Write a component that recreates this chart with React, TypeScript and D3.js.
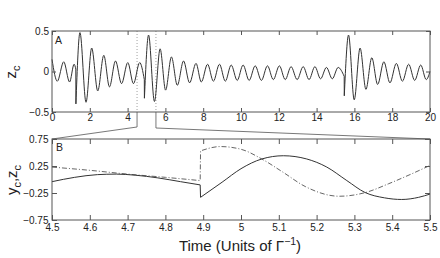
import React, { useEffect, useRef } from 'react';
import * as d3 from 'd3';

// z_c over the full run (time, value), extremes + jump points
const zcTrace: [number, number][] = [
  [0, 0.15], [0.28, -0.12], [0.62, 0.12], [0.93, -0.13], [1.17, 0.09], [1.26, 0.03],
  [1.265, -0.4], [1.48, 0.48], [1.8, -0.38], [2.1, 0.29], [2.42, -0.24], [2.74, 0.2],
  [3.04, -0.19], [3.36, 0.13], [3.68, -0.15], [4.01, 0.11], [4.31, -0.15], [4.64, 0.11],
  [4.885, -0.1], [4.89, -0.33], [5.11, 0.45], [5.42, -0.37], [5.72, 0.28], [6.01, -0.23],
  [6.32, 0.18], [6.63, -0.17], [6.96, 0.13], [7.28, -0.14], [7.62, 0.1], [7.9, -0.13],
  [8.23, 0.09], [8.54, -0.12], [8.86, 0.09], [9.17, -0.12], [9.48, 0.08], [9.8, -0.11],
  [10.11, 0.08], [10.43, -0.11], [10.75, 0.07], [11.08, -0.11], [11.4, 0.07], [11.71, -0.1],
  [12.03, 0.07], [12.34, -0.1], [12.65, 0.06], [12.97, -0.1], [13.29, 0.06], [13.6, -0.1],
  [13.91, 0.06], [14.21, -0.09], [14.52, 0.05], [14.83, -0.09], [15.14, 0.05], [15.46, -0.06],
  [15.465, -0.3], [15.69, 0.45], [15.99, -0.35], [16.3, 0.29], [16.61, -0.22], [16.92, 0.17],
  [17.23, -0.16], [17.56, 0.12], [17.88, -0.14], [18.22, 0.1], [18.54, -0.12], [18.87, 0.09],
  [19.19, -0.11], [19.51, 0.08], [19.8, -0.1], [20, 0.0],
];

// zoomed window, solid = z_c, dash-dot = y_c
const zcZoom: [number, number][] = [
  [4.5, -0.04], [4.56, 0.04], [4.62, 0.09], [4.67, 0.1], [4.72, 0.08], [4.78, 0.03],
  [4.84, -0.04], [4.892, -0.1], [4.893, -0.33], [4.95, -0.05], [5.0, 0.2], [5.055, 0.38],
  [5.112, 0.44], [5.174, 0.38], [5.227, 0.23], [5.28, -0.02], [5.328, -0.24], [5.38, -0.34],
  [5.425, -0.37], [5.47, -0.33], [5.5, -0.27],
];
const ycZoom: [number, number][] = [
  [4.5, 0.23], [4.6, 0.17], [4.7, 0.1], [4.8, 0.04], [4.892, -0.02], [4.893, 0.53],
  [4.945, 0.61], [5.0, 0.56], [5.055, 0.38], [5.11, 0.14], [5.17, -0.13], [5.26, -0.31],
  [5.33, -0.24], [5.39, -0.08], [5.45, 0.1], [5.5, 0.26],
];

const zoomWindow = [4.5, 5.5];
const topXTicks = [0, 2, 4, 6, 8, 10, 12, 14, 16, 18, 20];
const topYTicks = [-0.5, 0, 0.5];
const zoomXTicks = [4.5, 4.6, 4.7, 4.8, 4.9, 5, 5.1, 5.2, 5.3, 5.4, 5.5];
const zoomYTicks = [-0.75, -0.25, 0.25, 0.75];

const FONT = 'Liberation Sans, Arial, sans-serif';
const INK = '#222';
const FRAME = '#555';

// consecutive points closer than 0.01 in time are drawn as a straight jump
function jumpPath(pts: [number, number][], x: any, y: any) {
  const segs: [number, number][][] = [[pts[0]]];
  for (let i = 1; i < pts.length; i++) {
    if (pts[i][0] - pts[i - 1][0] < 0.01) segs.push([pts[i]]);
    else segs[segs.length - 1].push(pts[i]);
  }
  const line = d3.line<[number, number]>().x((d) => x(d[0])).y((d) => y(d[1])).curve(d3.curveMonotoneX);
  return segs.map((s) => line(s) || '').map((d, i) => (i === 0 ? d : 'L' + d.slice(1))).join('');
}

function drawAxes(g: any, x: any, y: any, xt: number[], yt: number[], tick: number, xPad: number, yPad: number) {
  const [x0, x1] = x.range();
  const [y0, y1] = y.range();
  const fmt = d3.format('');
  const style = (sel: any) => {
    sel.select('.domain').remove();
    sel.selectAll('line').attr('stroke', FRAME);
    sel.selectAll('text').attr('fill', INK).style('font-family', FONT).style('font-size', '10px');
  };
  g.append('g').attr('transform', `translate(0,${y0})`)
    .call(d3.axisBottom(x).tickValues(xt).tickSizeInner(-tick).tickSizeOuter(0).tickPadding(xPad).tickFormat(fmt as any))
    .call(style);
  g.append('g').attr('transform', `translate(0,${y1})`)
    .call(d3.axisTop(x).tickValues(xt).tickSizeInner(-tick).tickSizeOuter(0).tickFormat(() => ''))
    .call(style);
  g.append('g').attr('transform', `translate(${x0},0)`)
    .call(d3.axisLeft(y).tickValues(yt).tickSizeInner(-tick).tickSizeOuter(0).tickPadding(yPad).tickFormat(fmt as any))
    .call(style);
  g.append('g').attr('transform', `translate(${x1},0)`)
    .call(d3.axisRight(y).tickValues(yt).tickSizeInner(-tick).tickSizeOuter(0).tickFormat(() => ''))
    .call(style);
  g.append('rect').attr('x', x0).attr('y', y1).attr('width', x1 - x0).attr('height', y0 - y1)
    .attr('fill', 'none').attr('stroke', FRAME).attr('stroke-width', 1);
}

const App = () => {
  const ref = useRef<SVGSVGElement>(null);

  useEffect(() => {
    const svg = d3.select(ref.current);
    svg.selectAll('*').remove();

    const xTop = d3.scaleLinear().domain([0, 20]).range([52, 430]);
    const yTop = d3.scaleLinear().domain([-0.5, 0.5]).range([112, 31]);
    const xBot = d3.scaleLinear().domain(zoomWindow).range([52, 430]);
    const yBot = d3.scaleLinear().domain([-0.75, 0.75]).range([220, 139]);

    // panel A
    const a = svg.append('g');
    a.selectAll('line.win').data(zoomWindow).enter().append('line')
      .attr('x1', (d) => xTop(d)).attr('x2', (d) => xTop(d)).attr('y1', 31).attr('y2', 112)
      .attr('stroke', '#888').attr('stroke-width', 0.8).attr('stroke-dasharray', '1,2');
    a.append('path').attr('d', jumpPath(zcTrace, xTop, yTop))
      .attr('fill', 'none').attr('stroke', '#333').attr('stroke-width', 1);
    drawAxes(a, xTop, yTop, topXTicks, topYTicks, 4, 2, 3);

    // zoom connectors
    svg.append('polyline')
      .attr('points', `${xTop(zoomWindow[0])},112 ${xTop(zoomWindow[0])},127 ${xBot(zoomWindow[0])},139`)
      .attr('fill', 'none').attr('stroke', FRAME).attr('stroke-width', 0.8);
    svg.append('polyline')
      .attr('points', `${xTop(zoomWindow[1])},112 ${xTop(zoomWindow[1])},128 ${xBot(zoomWindow[1])},139`)
      .attr('fill', 'none').attr('stroke', FRAME).attr('stroke-width', 0.8);

    // panel B
    const b = svg.append('g');
    b.append('path').attr('d', jumpPath(ycZoom, xBot, yBot))
      .attr('fill', 'none').attr('stroke', '#555').attr('stroke-width', 0.9).attr('stroke-dasharray', '5,2,1,2');
    b.append('path').attr('d', jumpPath(zcZoom, xBot, yBot))
      .attr('fill', 'none').attr('stroke', '#333').attr('stroke-width', 1);
    drawAxes(b, xBot, yBot, zoomXTicks, zoomYTicks, 5, 4, 3.5);

    // panel letters
    svg.append('text').attr('x', 55).attr('y', 44).text('A')
      .attr('fill', INK).style('font-family', FONT).style('font-size', '10.5px');
    svg.append('text').attr('x', 56).attr('y', 151).text('B')
      .attr('fill', INK).style('font-family', FONT).style('font-size', '10.5px');

    // y labels
    const yl1 = svg.append('text').attr('transform', 'translate(16,72) rotate(-90)')
      .attr('text-anchor', 'middle').attr('fill', INK).style('font-family', FONT).style('font-size', '15px');
    yl1.append('tspan').text('z');
    yl1.append('tspan').attr('dy', 4).style('font-size', '11px').text('c');

    const yl2 = svg.append('text').attr('transform', 'translate(17,180) rotate(-90)')
      .attr('text-anchor', 'middle').attr('fill', INK).style('font-family', FONT).style('font-size', '15px');
    yl2.append('tspan').text('y');
    yl2.append('tspan').attr('dy', 4).style('font-size', '11px').text('c');
    yl2.append('tspan').attr('dy', -4).text(',z');
    yl2.append('tspan').attr('dy', 4).style('font-size', '11px').text('c');

    // x label
    const xl = svg.append('text').attr('x', 240).attr('y', 251)
      .attr('text-anchor', 'middle').attr('fill', INK).style('font-family', FONT).style('font-size', '15px');
    xl.append('tspan').text('Time (Units of \u0393');
    xl.append('tspan').attr('dy', -6).style('font-size', '10.5px').text('\u22121');
    xl.append('tspan').attr('dy', 6).text(')');
  }, []);

  return (
    <svg ref={ref} width={440} height={258}
      style={{ position: 'absolute', left: 0, top: 0, background: '#fff' }} />
  );
};

export default App;
